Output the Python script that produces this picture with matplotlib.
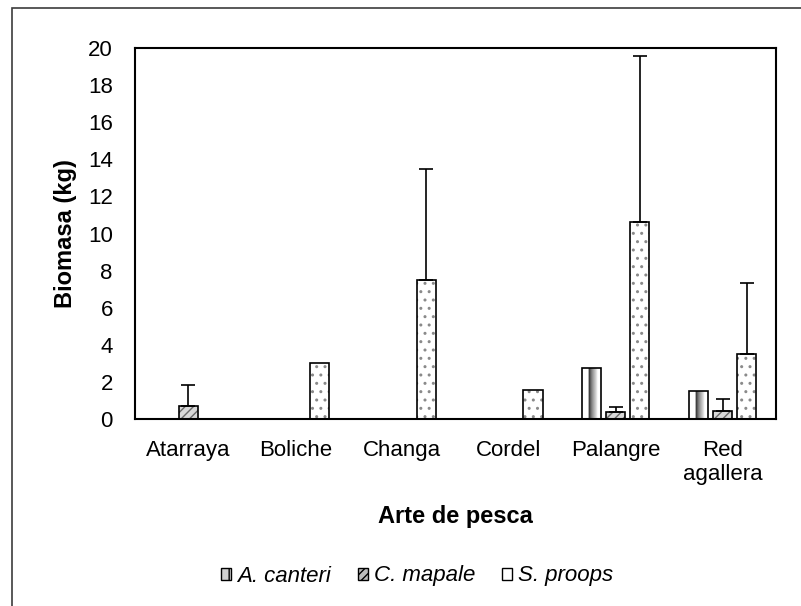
import matplotlib
matplotlib.use("Agg")
import matplotlib.pyplot as plt
import numpy as np
from matplotlib.patches import Patch, Rectangle

plt.rcParams["font.family"] = ["Liberation Sans", "DejaVu Sans"]
plt.rcParams["hatch.linewidth"] = 1.0

# Fishing gear and species
categories = ["Atarraya", "Boliche", "Changa", "Cordel", "Palangre", "Red\nagallera"]
species = ["A. canteri", "C. mapale", "S. proops"]

# Mean biomass (kg) per gear
a_canteri = [0.0, 0.0, 0.0, 0.0, 2.77, 1.53]
c_mapale = [0.72, 0.0, 0.0, 0.0, 0.40, 0.45]
s_proops = [0.0, 3.0, 7.49, 1.55, 10.6, 3.5]

# Upper error (kg)
a_canteri_err = [0.0, 0.0, 0.0, 0.0, 0.0, 0.0]
c_mapale_err = [1.11, 0.0, 0.0, 0.0, 0.26, 0.61]
s_proops_err = [0.0, 0.0, 5.97, 0.0, 8.98, 3.85]

yticks = list(range(0, 21, 2))

W, H = 801, 606
fig = plt.figure(figsize=(W / 100, H / 100), dpi=100)
ax = fig.add_axes([135 / W, 1 - 419 / H, 641 / W, 371 / H])

x = np.arange(len(categories))
offsets = [-0.225, 0.0, 0.225]
width = 0.18

# horizontal shading profile for the A. canteri bars
shade = np.array([1.0, 1.0, 1.0, 1.0, 0.25, 0.45, 0.6, 0.72, 0.85, 1.0, 1.0, 1.0])


def shade_bars(bars, profile):
    for r in bars:
        h = r.get_height()
        if h <= 0:
            continue
        x0, w = r.get_x(), r.get_width()
        im = ax.imshow(profile[None, :], cmap="gray", vmin=0, vmax=1,
                       extent=(x0, x0 + w, 0, h), aspect="auto",
                       interpolation="bilinear", zorder=2)
        im.set_clip_path(r)


series = [a_canteri, c_mapale, s_proops]
errors = [a_canteri_err, c_mapale_err, s_proops_err]

# A. canteri: shaded fill
b0 = ax.bar(x + offsets[0], a_canteri, width, color="white", linewidth=0, zorder=1)
shade_bars(b0, shade)
# C. mapale: diagonal hatch
ax.bar(x + offsets[1], c_mapale, width, color="#d8d8d8", edgecolor="#6a6a6a",
       hatch="////", linewidth=0, zorder=2)
# S. proops: dotted fill
ax.bar(x + offsets[2], s_proops, width, color="white", edgecolor="#8a8a8a",
       hatch="..", linewidth=0, zorder=2)

for off, vals, errs in zip(offsets, series, errors):
    vals = np.array(vals)
    errs = np.array(errs)
    mask = vals > 0
    ax.bar(x[mask] + off, vals[mask], width, fill=False, edgecolor="black",
           linewidth=1.2, zorder=3)
    em = errs > 0
    if em.any():
        ax.errorbar(x[em] + off, vals[em], yerr=[np.zeros(em.sum()), errs[em]],
                    fmt="none", ecolor="black", elinewidth=1.2, capsize=5,
                    capthick=1.2, zorder=4)

ax.set_xlim(-0.5, len(categories) - 0.5)
ax.set_ylim(0, 20)
ax.set_yticks(yticks)
ax.set_xticks(x, categories)
ax.tick_params(axis="both", length=0, labelsize=16)
ax.tick_params(axis="y", pad=16)
ax.tick_params(axis="x", pad=15)
for s in ax.spines.values():
    s.set_linewidth(1.5)
    s.set_color("black")

ax.set_ylabel("Biomasa (kg)", fontsize=17, fontweight="bold", va="center")
ax.yaxis.set_label_coords((65 - 135) / 641, 0.5)
ax.set_xlabel("Arte de pesca", fontsize=17, fontweight="bold", va="center")
ax.xaxis.set_label_coords(0.5, (419 - 516) / 371)

handles = [
    Patch(facecolor="#d0d0d0", edgecolor="black", hatch="||", linewidth=1.0),
    Patch(facecolor="#bdbdbd", edgecolor="black", hatch="////", linewidth=1.0),
    Patch(facecolor="white", edgecolor="black", linewidth=1.0),
]
fig.legend(handles, species, loc="center", bbox_to_anchor=(417 / W, 1 - 576 / H),
           ncol=3, frameon=False, prop={"style": "italic", "size": 16},
           handlelength=0.45, handleheight=0.45, handletextpad=0.28,
           columnspacing=1.2)

# chart area border
fig.add_artist(Rectangle((12 / W, -0.2), 1.5, 1.2 - 8 / H, transform=fig.transFigure,
                         fill=False, edgecolor="#3c3c3c", linewidth=1.2))

fig.savefig("out.png", dpi=100)
